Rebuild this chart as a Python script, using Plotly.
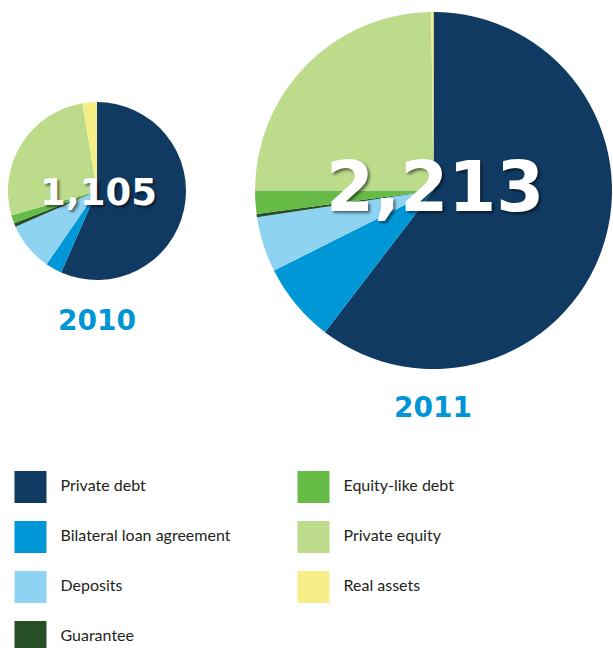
import plotly.graph_objects as go

# shares of each portfolio (%), clockwise from 12 o'clock
categories = ["Private debt", "Bilateral loan agreement", "Deposits", "Guarantee",
              "Equity-like debt", "Private equity", "Real assets"]
colors = ["#113a63", "#0097d7", "#8fd3f3", "#264f27", "#66bb46", "#bcdb8b", "#f6ef87"]
share_2010 = [56.6, 3.0, 8.8, 0.7, 1.5, 26.8, 2.6]
share_2011 = [60.4, 7.2, 5.0, 0.3, 2.1, 24.8, 0.2]
totals = ["1,105", "2,213"]
years = ["2010", "2011"]

W, H = 613, 648


def fx(a):
    return a / W


def fy(y):
    return 1 - y / H


fig = go.Figure()

pies = [
    (share_2010, [fx(8), fx(186)], [fy(280), fy(102)]),
    (share_2011, [fx(255), fx(612)], [fy(369), fy(12)]),
]
for vals, dx, dy in pies:
    fig.add_trace(go.Pie(
        labels=categories, values=vals, sort=False, direction="clockwise",
        rotation=0, marker=dict(colors=colors, line=dict(width=0)),
        textinfo="none", domain=dict(x=dx, y=dy), showlegend=False,
    ))

# centre totals + year captions
big = dict(family="DejaVu Sans, sans-serif", color="white", weight="bold",
           shadow="2px 2px 3px rgba(0,0,0,0.55)")
ann = dict(xref="paper", yref="paper", showarrow=False, xanchor="center", yanchor="middle")
fig.add_annotation(x=fx(98), y=fy(192), text=totals[0], font=dict(size=37, **big), **ann)
fig.add_annotation(x=fx(435), y=fy(187), text=totals[1], font=dict(size=69, **big), **ann)
year_font = dict(family="DejaVu Sans, sans-serif", color="#0096d6", weight="bold", size=28)
fig.add_annotation(x=fx(97), y=fy(320), text=years[0], font=year_font, **ann)
fig.add_annotation(x=fx(433), y=fy(407), text=years[1], font=year_font, **ann)

# legend drawn as square markers on a hidden axis (page pixels)
col_x = [30.5, 313.5]
row_y0, row_step = 487, 50
lx = [col_x[i // 4] for i in range(len(categories))]
ly = [row_y0 + row_step * (i % 4) for i in range(len(categories))]
fig.add_trace(go.Scatter(
    x=lx, y=ly, mode="markers", showlegend=False, hoverinfo="skip",
    marker=dict(symbol="square", size=32, color=colors, line=dict(width=0)),
))
fig.add_trace(go.Scatter(
    x=[v + 30 for v in lx], y=ly, mode="text", text=categories, showlegend=False,
    textposition="middle right", hoverinfo="skip",
    textfont=dict(family="Lato, Open Sans, sans-serif", size=16, color="#231f20"),
))

fig.update_xaxes(range=[0, W], domain=[0, 1], visible=False, fixedrange=True)
fig.update_yaxes(range=[648, 460], domain=[0, 188 / H], visible=False, fixedrange=True)

fig.update_layout(
    width=W, height=H, margin=dict(l=0, r=0, t=0, b=0),
    paper_bgcolor="white", plot_bgcolor="white",
)

# drop the browser's default body margin so the figure fills the window
fig.write_html("out.html", config={"displayModeBar": False},
               post_script="document.body.style.margin='0';"
                           "document.body.style.overflow='hidden';")
